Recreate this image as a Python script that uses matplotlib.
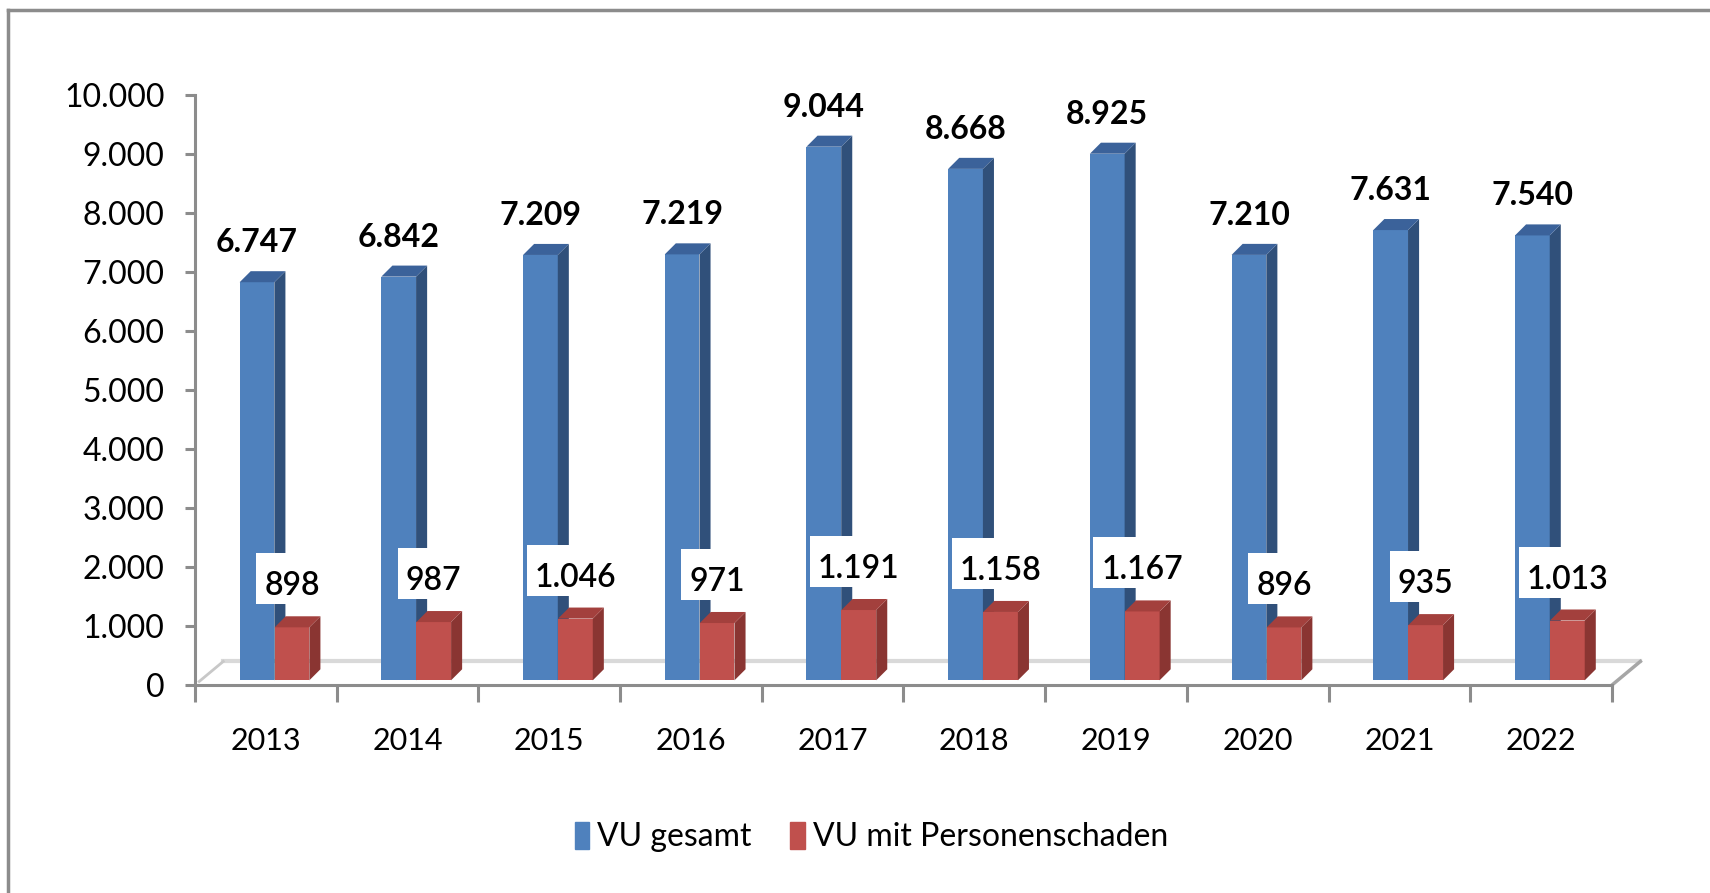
import matplotlib.pyplot as plt
from matplotlib.patches import Polygon, Rectangle
from matplotlib.lines import Line2D

plt.rcParams['font.family'] = ['Lato', 'DejaVu Sans']

years = ['2013', '2014', '2015', '2016', '2017', '2018', '2019', '2020', '2021', '2022']
vu_gesamt = [6747, 6842, 7209, 7219, 9044, 8668, 8925, 7210, 7631, 7540]
vu_personen = [898, 987, 1046, 971, 1191, 1158, 1167, 896, 935, 1013]


def fmt(v):
    # German thousands separator
    return f"{v:,}".replace(',', '.')


def bar3d(ax, x, h, w, base, front, side, top, dx=0.078, dy=187):
    # front face through the normal bar call, side and top as polygons
    ax.bar(x, h, width=w, bottom=base, color=front, linewidth=0, zorder=3)
    x0, x1 = x - w / 2, x + w / 2
    y0, y1 = base, base + h
    ax.add_patch(Polygon([(x1, y0), (x1 + dx, y0 + dy), (x1 + dx, y1 + dy), (x1, y1)],
                         closed=True, facecolor=side, edgecolor='none', zorder=3))
    ax.add_patch(Polygon([(x0, y1), (x0 + dx, y1 + dy), (x1 + dx, y1 + dy), (x1, y1)],
                         closed=True, facecolor=top, edgecolor='none', zorder=3))


fig = plt.figure(figsize=(17.1, 8.93), dpi=100)
ax = fig.add_axes([0.114, 0.2329, 0.8287, 0.6607])

axis_grey = '#8C8C8C'
base = 80
w = 0.245
off_blue = -0.062
off_red = 0.185

# 3d floor
ax.plot([-0.3, 9.7], [400, 400], color='#D9D9D9', lw=3, clip_on=False, zorder=1)
ax.plot([-0.47, -0.3], [60, 400], color='#C8C8C8', lw=2, clip_on=False, zorder=1)
ax.plot([9.5, 9.7], [0, 400], color='#A6A6A6', lw=2.5, clip_on=False, zorder=1)

red_labels = []
for i in range(len(years)):
    bar3d(ax, i + off_blue, vu_gesamt[i], w, base, '#4F81BD', '#30507A', '#3B629A')
    bar3d(ax, i + off_red, vu_personen[i], w, base, '#C0504D', '#8A3532', '#A3403D')

    ax.annotate(fmt(vu_gesamt[i]), (i + off_blue, vu_gesamt[i] + base),
                xytext=(0, 30), textcoords='offset pixels',
                ha='center', va='baseline', fontsize=23, fontweight='bold', zorder=5)
    t = ax.annotate(fmt(vu_personen[i]), (i + off_red, vu_personen[i] + base),
                    xytext=(0, 32), textcoords='offset pixels',
                    ha='center', va='baseline', fontsize=23, fontweight='semibold', zorder=6)
    red_labels.append(t)

ax.set_xlim(-0.5, 9.5)
ax.set_ylim(0, 10000)
ax.set_yticks(range(0, 10001, 1000))
ax.set_yticklabels([fmt(v) for v in range(0, 10001, 1000)], fontsize=23)
ax.set_xticks(range(len(years)))
ax.set_xticklabels(years, fontsize=22)
ax.set_xticks([i - 0.5 for i in range(len(years) + 1)], minor=True)

ax.tick_params(axis='x', which='major', length=0, pad=30)
ax.tick_params(axis='x', which='minor', length=12, width=2.2, color=axis_grey, direction='out')
ax.tick_params(axis='y', length=7, width=2.2, color=axis_grey, pad=15)

for s in ['top', 'right']:
    ax.spines[s].set_visible(False)
for s in ['left', 'bottom']:
    ax.spines[s].set_color(axis_grey)
    ax.spines[s].set_linewidth(2.2)
ax.patch.set_visible(False)

# white label boxes, more padding on top like the Excel ones
fig.canvas.draw()
inv = ax.transAxes.inverted()
for t in red_labels:
    bb = t.get_window_extent()
    (ax0, ay0) = inv.transform((bb.x0 - 8, bb.y0 - 3))
    (ax1, ay1) = inv.transform((bb.x1 + 8, bb.y1 + 18))
    ax.add_patch(Rectangle((ax0, ay0), ax1 - ax0, ay1 - ay0, transform=ax.transAxes,
                           facecolor='white', edgecolor='none', zorder=4, clip_on=False))

handles = [plt.Rectangle((0, 0), 1, 1, color='#4F81BD'),
           plt.Rectangle((0, 0), 1, 1, color='#C0504D')]
fig.legend(handles, ['VU gesamt', 'VU mit Personenschaden'], loc='center left',
           bbox_to_anchor=(0.3363, 0.0627), ncol=2, frameon=False, fontsize=23,
           handlelength=0.45, handleheight=0.95, handletextpad=0.25,
           columnspacing=1.2, borderpad=0, borderaxespad=0)

# outer chart border (only top and left are inside the picture)
fig.add_artist(Line2D([0.0047, 0.0047], [0, 0.9888], color='#8C8C8C', lw=2.5))
fig.add_artist(Line2D([0.0047, 1], [0.9888, 0.9888], color='#8C8C8C', lw=2.5))

fig.savefig('out.png', dpi=100)
